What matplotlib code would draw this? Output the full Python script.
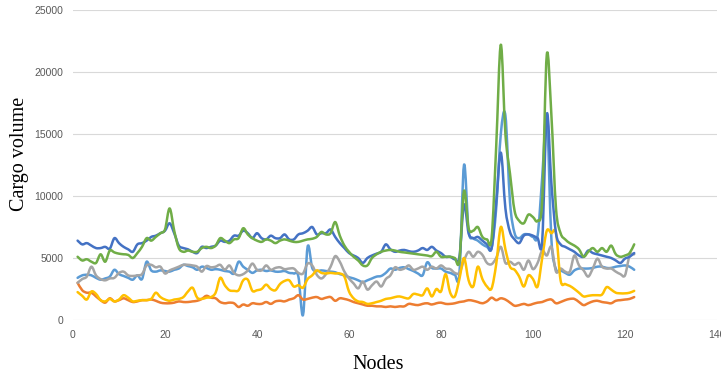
import numpy as np
import matplotlib
matplotlib.use("Agg")
import matplotlib.pyplot as plt
from matplotlib.path import Path
from matplotlib.patches import PathPatch

nodes = np.arange(1, 123)

dark_blue = [
    6400, 6100, 6200, 6000, 5800, 5800, 5900, 5750, 6600, 6200,
    5900, 5700, 5500, 6100, 6200, 6400, 6700, 6800, 7000, 7200,
    7800, 7000, 6000, 5800, 5700, 5500, 5400, 5900, 5800, 5900,
    6000, 6400, 6300, 6400, 6800, 6800, 7200, 7000, 6600, 7000,
    6600, 6500, 6800, 6600, 6600, 6900, 6500, 6500, 6900, 7000,
    7200, 7500, 6900, 7000, 7000, 7300, 6700, 6200, 5800, 5400,
    5200, 5000, 4600, 5000, 5200, 5350, 5500, 6100, 5700, 5500,
    5600, 5650, 5550, 5500, 5600, 5800, 5650, 5900, 5600, 5400,
    5100, 5100, 4900, 5100, 9300, 7000, 6600, 6700, 6400, 6100,
    5800, 9500, 13500, 9000, 7100, 6500, 6200, 6800, 6900, 6800,
    6600, 6400, 16600, 11000, 7000, 6100, 5900, 5700, 5500, 5200,
    5100, 5600, 5400, 5300, 5200, 5100, 5000, 4800, 4600, 4950,
    5100, 5400,
]

green = [
    5100, 4800, 4900, 4700, 4600, 5300, 4700, 5600, 5450, 5350,
    5300, 5250, 5000, 5400, 5900, 6600, 6400, 6700, 7000, 7300,
    9000, 7200, 5800, 5500, 5600, 5500, 5500, 5800, 5900, 5800,
    6000, 6600, 6400, 6200, 6500, 6600, 7400, 6900, 6600, 6400,
    6300, 6500, 6400, 6200, 6400, 6500, 6400, 6300, 6300, 6400,
    6500, 6550, 6700, 7100, 6900, 7000, 7900, 6800, 6000, 5500,
    5100, 4800, 4400, 4400, 5000, 5300, 5500, 5600, 5650, 5600,
    5500, 5450, 5400, 5350, 5300, 5250, 5200, 5150, 5500, 5100,
    5100, 5100, 5000, 4800, 10400, 7400, 7200, 7500, 6700, 6500,
    6600, 14000, 22200, 15000, 11800, 8800, 8000, 7800, 8500, 8300,
    8000, 9600, 21400, 16500, 9000, 7000, 6500, 6200, 6000, 5700,
    5100, 5500, 5800, 5500, 5800, 5500, 6000, 5300, 5100, 5200,
    5400, 6100,
]

light_blue = [
    3400, 3600, 3650, 3600, 3400, 3250, 3350, 3500, 4050, 3700,
    3550, 3400, 3250, 3600, 3300, 4700, 4000, 3900, 4000, 3950,
    3900, 4050, 4150, 4450, 4350, 4250, 4050, 4300, 4200, 4050,
    4100, 4050, 3950, 3900, 3750, 4700, 4300, 4050, 3800, 4000,
    4050, 3950, 4000, 3900, 3900, 3950, 3800, 3750, 3500, 400,
    5900, 4200, 3950, 4000, 3950, 3900, 3850, 3700, 3600, 3450,
    3350, 3200, 3050, 3200, 3350, 3500, 3550, 3800, 4150, 4050,
    4200, 4250, 4100, 3950, 3750, 3600, 4650, 4200, 4150, 4150,
    3900, 3800, 3650, 3750, 12500, 7200, 6600, 6400, 6100, 5900,
    5800, 9000, 15000, 16500, 9500, 7000, 6600, 6900, 6900, 6700,
    6800, 11500, 16400, 6500, 4100, 4000, 3800, 3650, 4000, 4150,
    4150, 4150, 4200, 4300, 4300, 4200, 4200, 4300, 4350, 4400,
    4300, 4050,
]

gray = [
    3000, 3300, 3500, 4300, 3600, 3300, 3200, 3350, 3400, 3800,
    3900, 3600, 3550, 3600, 3700, 4400, 4450, 4250, 4300, 3750,
    4000, 4150, 4300, 4450, 4450, 4400, 4300, 3900, 4350, 4250,
    4300, 4450, 4050, 4400, 3800, 3600, 3700, 4000, 4550, 4050,
    4000, 4400, 4050, 4200, 4250, 4100, 4150, 4150, 3800, 3750,
    4550, 4400, 3650, 3350, 3700, 4300, 5150, 4700, 3900, 3350,
    2950, 2550, 3100, 2450, 2800, 3100, 2700, 3300, 3600, 4250,
    4050, 4150, 4400, 4050, 4150, 4300, 4050, 4300, 4150, 4400,
    4150, 4100, 3800, 3800, 4800, 5500, 5100, 5500, 5250, 4600,
    4500, 5000, 5900, 4600, 4700, 4450, 4600, 4050, 4800, 4100,
    4600, 5600, 5200, 5900, 3900, 4150, 3900, 3900, 5200, 4400,
    4000, 3500, 4150, 4950, 4300, 4150, 4150, 3900, 3700, 3600,
    5200, 5300,
]

orange = [
    3000, 2400, 2200, 2200, 1900, 1600, 1400, 1750, 1500, 1600,
    1750, 1600, 1450, 1500, 1600, 1600, 1650, 1550, 1400, 1350,
    1350, 1400, 1500, 1450, 1450, 1500, 1550, 1700, 1950, 1800,
    1750, 1450, 1350, 1400, 1350, 1050, 1250, 1150, 1350, 1300,
    1300, 1450, 1300, 1500, 1550, 1500, 1650, 1750, 2000, 1650,
    1700, 1800, 1850, 1700, 1800, 1850, 1550, 1750, 1700, 1600,
    1450, 1350, 1250, 1150, 1150, 1100, 1100, 1050, 1100, 1050,
    1100, 1100, 1300, 1250, 1200, 1300, 1350, 1250, 1350, 1400,
    1300, 1300, 1350, 1450, 1500, 1600, 1550, 1450, 1350, 1500,
    1800, 1600, 1750, 1650, 1400, 1150, 1200, 1300, 1200, 1300,
    1400, 1450, 1600, 1650, 1350, 1450, 1600, 1700, 1700, 1450,
    1200, 1350, 1500, 1550, 1450, 1400, 1350, 1550, 1600, 1650,
    1700, 1850,
]

yellow = [
    2250, 1950, 1650, 2300, 2100, 1600, 1500, 1700, 1500, 1650,
    2000, 1800, 1500, 1550, 1600, 1600, 1700, 2200, 1850, 1650,
    1550, 1650, 1700, 1850, 2300, 2600, 1800, 1700, 1800, 1850,
    2200, 3400, 2800, 2400, 2350, 2400, 3200, 3250, 2350, 2400,
    2500, 2850, 2500, 2400, 2900, 3150, 3200, 2700, 2800, 2600,
    3300, 3600, 4000, 3800, 3750, 3800, 3750, 3750, 3500, 2300,
    1750, 1500, 1450, 1300, 1350, 1450, 1550, 1700, 1750, 1850,
    1900, 1800, 1750, 2100, 2050, 2000, 2550, 1900, 2500, 2300,
    3700, 2200, 1900, 3300, 5000, 3200, 2700, 4300, 3300, 2700,
    2550, 4500, 7500, 5700, 4300, 4050, 3500, 2700, 3600, 3300,
    2700, 5000, 7200, 7000, 7000, 3200, 2900, 2750, 2500, 2200,
    1900, 1950, 2000, 2000, 2050, 2650, 2450, 2200, 2150, 2150,
    2200, 2350,
]

# draw order / colours (Excel office palette)
series = [
    (light_blue, "#5B9BD5"),
    (orange, "#ED7D31"),
    (gray, "#A5A5A5"),
    (yellow, "#FFC000"),
    (dark_blue, "#4472C4"),
    (green, "#70AD47"),
]


def smooth_path(x, y):
    # bezier through every point, like Excel's "smoothed line"
    pts = np.column_stack([x, y]).astype(float)
    padded = np.vstack([pts[0], pts, pts[-1]])
    verts = [pts[0]]
    codes = [Path.MOVETO]
    for i in range(len(pts) - 1):
        p0, p1, p2, p3 = padded[i], padded[i + 1], padded[i + 2], padded[i + 3]
        verts += [p1 + (p2 - p0) / 6, p2 - (p3 - p1) / 6, p2]
        codes += [Path.CURVE4] * 3
    return Path(verts, codes)


fig = plt.figure(figsize=(7.21, 3.78), dpi=100)
ax = fig.add_axes([73 / 721, 1 - 320 / 378, 644 / 721, 310 / 378])

for values, color in series:
    ax.add_patch(PathPatch(smooth_path(nodes, values), fill=False,
                           edgecolor=color, lw=1.8, joinstyle="round",
                           capstyle="round"))

ax.set_xlim(0, 140)
ax.set_ylim(0, 25000)
ax.set_xticks(range(0, 141, 20))
ax.set_yticks(range(0, 25001, 5000))
ax.grid(axis="y", color="#D9D9D9", lw=0.8)
ax.set_axisbelow(True)
for s in ax.spines.values():
    s.set_visible(False)
ax.tick_params(length=0, labelsize=7.5, labelcolor="#595959", pad=7)
for lab in ax.get_xticklabels() + ax.get_yticklabels():
    lab.set_family("Liberation Sans")

ax.set_ylabel("Cargo volume", family="Liberation Serif", fontsize=14.5)
ax.yaxis.set_label_coords(-0.068, 0.537)
ax.set_xlabel("Nodes", family="Liberation Serif", fontsize=14.5)
ax.xaxis.set_label_coords(0.4736, -0.113)

fig.savefig("out.png", dpi=100)
